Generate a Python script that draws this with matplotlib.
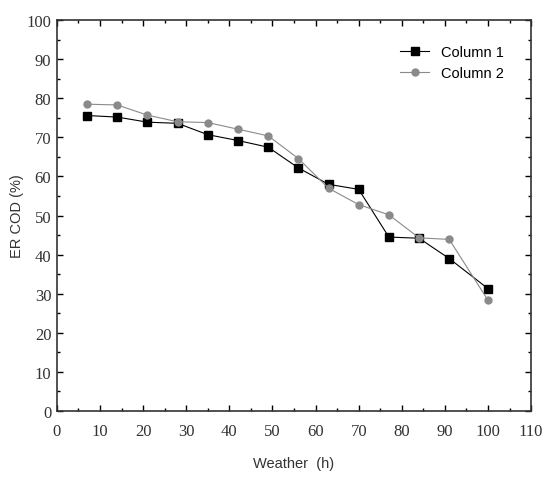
import matplotlib
matplotlib.use("Agg")
import matplotlib.pyplot as plt
from matplotlib.ticker import MultipleLocator

x = [7, 14, 21, 28, 35, 42, 49, 56, 63, 70, 77, 84, 91, 100]
col1 = [75.6, 75.2, 73.9, 73.6, 70.7, 69.2, 67.5, 62.2, 58.0, 56.7, 44.5, 44.2, 39.0, 31.3]
col2 = [78.5, 78.3, 75.7, 74.0, 73.8, 72.1, 70.4, 64.6, 57.0, 52.8, 50.2, 44.3, 43.9, 28.3]

fig = plt.figure(figsize=(5.42, 4.81), dpi=100)
ax = fig.add_axes([0.105, 0.1435, 0.875, 0.8125])

ax.plot(x, col1, color="black", lw=0.8, marker="s", ms=5.5, label="Column 1")
ax.plot(x, col2, color="#8a8a8a", lw=0.8, marker="o", ms=5, label="Column 2")

ax.set_xlim(0, 110)
ax.set_ylim(0, 100)
ax.xaxis.set_major_locator(MultipleLocator(10))
ax.xaxis.set_minor_locator(MultipleLocator(5))
ax.yaxis.set_major_locator(MultipleLocator(10))
ax.yaxis.set_minor_locator(MultipleLocator(5))
ax.tick_params(which="both", direction="in", top=True, right=True, width=1)
ax.tick_params(which="major", length=4)
ax.tick_params(which="minor", length=2)
ax.tick_params(axis="x", which="major", pad=9)
ax.tick_params(axis="y", which="major", pad=4)
for lab in ax.get_xticklabels() + ax.get_yticklabels():
    lab.set_fontfamily("Liberation Serif")
    lab.set_fontsize(12)
    lab.set_color("#333333")
for s in ax.spines.values():
    s.set_linewidth(1.2)
    s.set_color("#333333")

ax.set_xlabel("Weather  (h)", fontfamily="Liberation Sans", fontsize=10.5, color="#333333", labelpad=12)
ax.set_ylabel("ER COD (%)", fontfamily="Liberation Sans", fontsize=10.5, color="#333333", labelpad=2)

leg = ax.legend(loc="upper right", bbox_to_anchor=(0.97, 0.97), frameon=False,
                prop={"family": "Liberation Sans", "size": 10.5}, handlelength=2.0)

fig.savefig("out.png", dpi=100)
